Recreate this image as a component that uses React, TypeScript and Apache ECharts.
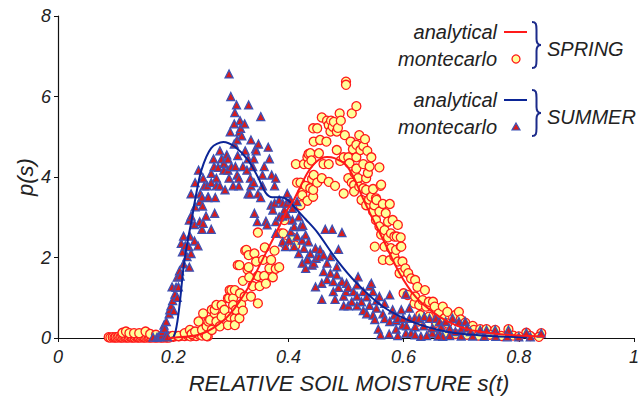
import React, { useEffect, useRef } from "react";
import * as echarts from "echarts";

// ---------- data ----------
const xTicks = [0, 0.2, 0.4, 0.6, 0.8, 1];
const yTicks = [0, 2, 4, 6, 8];

const springAnalytical: number[][] = [
  [0.19, 0], [0.22, 0.03], [0.244, 0.08], [0.27, 0.25], [0.3, 0.62], [0.33, 1.25],
  [0.359, 2.06], [0.38, 2.65], [0.398, 3.18], [0.41, 3.45], [0.433, 4.1], [0.45, 4.4],
  [0.467, 4.5], [0.48, 4.47], [0.5, 4.3], [0.513, 4.0], [0.53, 3.45], [0.545, 3.0],
  [0.565, 2.43], [0.593, 1.61], [0.621, 1.02], [0.65, 0.65], [0.678, 0.4], [0.71, 0.22],
  [0.736, 0.15], [0.765, 0.1], [0.793, 0.07], [0.82, 0.05], [0.845, 0.04],
];

const summerAnalytical: number[][] = [
  [0.19, 0], [0.2, 0.02], [0.206, 0.3], [0.212, 0.94], [0.218, 1.77], [0.225, 2.4],
  [0.232, 2.93], [0.238, 3.43], [0.249, 4.17], [0.266, 4.72], [0.287, 4.87], [0.307, 4.75],
  [0.33, 4.42], [0.347, 4.0], [0.361, 3.6], [0.372, 3.5], [0.387, 3.5], [0.4, 3.42],
  [0.41, 3.26], [0.43, 2.95], [0.45, 2.63], [0.484, 1.94], [0.518, 1.37], [0.565, 0.77],
  [0.621, 0.37], [0.678, 0.15], [0.73, 0.07], [0.78, 0.03], [0.814, 0.02],
];

const springMonteCarlo: number[][] = [
  [0.088, 0.02], [0.091, 0.01], [0.095, 0.02], [0.098, 0.01], [0.1, 0.02], [0.103, 0.01],
  [0.105, 0.03], [0.108, 0.01], [0.11, 0.02], [0.113, 0.01], [0.115, 0.03], [0.118, 0.01],
  [0.12, 0.02], [0.123, 0.01], [0.125, 0.03], [0.128, 0.01], [0.13, 0.02], [0.133, 0.01],
  [0.135, 0.03], [0.138, 0.01], [0.14, 0.02], [0.143, 0.01], [0.145, 0.03], [0.148, 0.01],
  [0.15, 0.02], [0.153, 0.01], [0.155, 0.03], [0.158, 0.01], [0.16, 0.02], [0.163, 0.01],
  [0.165, 0.03], [0.168, 0.01], [0.17, 0.02], [0.173, 0.01], [0.175, 0.03], [0.178, 0.01],
  [0.18, 0.02], [0.183, 0.01], [0.185, 0.03], [0.188, 0.01], [0.19, 0.02], [0.193, 0.01],
  [0.195, 0.04], [0.2, 0.03], [0.205, 0.05], [0.21, 0.04], [0.215, 0.06], [0.22, 0.05],
  [0.225, 0.07], [0.23, 0.04], [0.235, 0.06], [0.24, 0.05], [0.245, 0.08], [0.25, 0.06],
  [0.255, 0.1], [0.26, 0.04],
  [0.112, 0.13], [0.118, 0.16], [0.124, 0.12], [0.132, 0.12], [0.141, 0.12], [0.152, 0.16],
  [0.16, 0.1], [0.17, 0.08],
  [0.199, 0.05], [0.209, 0.05], [0.22, 0.12], [0.229, 0.2], [0.232, 0.1], [0.238, 0.16],
  [0.244, 0.41], [0.25, 0.2], [0.252, 0.61], [0.258, 0.29], [0.258, 0.05], [0.261, 0.41],
  [0.264, 0.45], [0.267, 0.7], [0.267, 0.2], [0.272, 0.61], [0.272, 0.7], [0.275, 0.82],
  [0.275, 0.41], [0.281, 0.29], [0.284, 0.82], [0.284, 0.53], [0.289, 0.7], [0.295, 0.99],
  [0.295, 0.32], [0.297, 0.99], [0.298, 1.19], [0.298, 0.53], [0.301, 1.19], [0.304, 0.99],
  [0.304, 0.82], [0.307, 1.19], [0.307, 0.49], [0.307, 0.32], [0.309, 0.7], [0.312, 1.81],
  [0.315, 1.81], [0.315, 0.49], [0.316, 1.11], [0.318, 0.84], [0.321, 1.42], [0.321, 0.68],
  [0.324, 1.03], [0.325, 2.17], [0.327, 2.19], [0.329, 1.7], [0.331, 2.06], [0.331, 1.76],
  [0.332, 1.51], [0.335, 1.03], [0.338, 1.29], [0.341, 2.1], [0.344, 1.9], [0.347, 2.62],
  [0.347, 1.54], [0.347, 0.86], [0.35, 1.29], [0.356, 1.94], [0.358, 1.54], [0.359, 2.25],
  [0.361, 1.35], [0.367, 1.73], [0.37, 1.94], [0.373, 1.51], [0.376, 2.17], [0.378, 1.72],
  [0.384, 1.76], [0.387, 2.6], [0.391, 2.6], [0.393, 2.93], [0.393, 2.35], [0.407, 2.5],
  [0.412, 2.3],
  [0.413, 4.32], [0.415, 3.86], [0.421, 3.3], [0.421, 3.86], [0.424, 3.61], [0.424, 3.55],
  [0.427, 4.32], [0.43, 3.78], [0.433, 4.49], [0.433, 3.41], [0.435, 4.57], [0.435, 4.32],
  [0.438, 4.59], [0.438, 3.72], [0.44, 4.41], [0.441, 3.95], [0.443, 5.21], [0.443, 3.51],
  [0.443, 3.68], [0.444, 4.88], [0.444, 4.05], [0.45, 5.21], [0.45, 3.86], [0.453, 4.59],
  [0.455, 4.92], [0.458, 5.48], [0.458, 3.97], [0.461, 4.32], [0.466, 4.88], [0.467, 5.4],
  [0.47, 5.29], [0.47, 4.32], [0.47, 3.88], [0.473, 5.13], [0.474, 5.4], [0.477, 5.25],
  [0.479, 5.37], [0.481, 3.78], [0.484, 4.67], [0.484, 5.13], [0.486, 5.22], [0.489, 5.58],
  [0.49, 4.4], [0.491, 5.4], [0.496, 4.49], [0.496, 3.59], [0.498, 5.04], [0.5, 6.37],
  [0.5, 6.29], [0.504, 4.49], [0.504, 3.97], [0.506, 4.34], [0.508, 4.88], [0.51, 5.58],
  [0.51, 3.86], [0.512, 4.69], [0.514, 3.8], [0.514, 3.64], [0.515, 4.1], [0.518, 5.76],
  [0.518, 4.8], [0.518, 4.49], [0.518, 4.21], [0.521, 3.97], [0.523, 5.04], [0.523, 3.76],
  [0.525, 4.67], [0.527, 3.43], [0.53, 4.77], [0.53, 4.32], [0.53, 3.72], [0.533, 4.94],
  [0.535, 3.97], [0.535, 3.68], [0.535, 3.3], [0.537, 4.65], [0.538, 4.1], [0.54, 3.44],
  [0.541, 4.26], [0.544, 4.49], [0.544, 3.51], [0.547, 3.7], [0.547, 3.14], [0.549, 3.3],
  [0.55, 2.27], [0.552, 3.47], [0.552, 2.93], [0.553, 3.43], [0.558, 4.24], [0.558, 3.14],
  [0.558, 2.77], [0.56, 3.78], [0.561, 3.81], [0.561, 2.57], [0.564, 3.33], [0.564, 1.94],
  [0.567, 2.68], [0.567, 2.27], [0.569, 3.1], [0.573, 2.89], [0.573, 2.5], [0.576, 3.33],
  [0.576, 1.93], [0.578, 2.6], [0.578, 2.23], [0.581, 2.93], [0.584, 2.52], [0.584, 2.02],
  [0.587, 2.19], [0.59, 2.81], [0.588, 2.52], [0.595, 2.5], [0.595, 2.27], [0.596, 2.27],
  [0.59, 1.9], [0.598, 1.9], [0.593, 1.61],
  [0.6, 1.11], [0.603, 1.73], [0.607, 1.07], [0.608, 1.61], [0.613, 1.48], [0.619, 0.86],
  [0.62, 1.44], [0.62, 1.03], [0.624, 1.27], [0.625, 0.41], [0.627, 0.82], [0.629, 0.57],
  [0.633, 0.94], [0.637, 1.19], [0.639, 0.78], [0.644, 0.9], [0.644, 0.53], [0.651, 0.9],
  [0.654, 0.78], [0.656, 0.38], [0.661, 0.61], [0.668, 0.78], [0.671, 0.49], [0.676, 0.65],
  [0.676, 0.36], [0.69, 0.57], [0.696, 0.65], [0.699, 0.46], [0.707, 0.38], [0.711, 0.26],
  [0.72, 0.3], [0.722, 0.2], [0.733, 0.22], [0.744, 0.22], [0.759, 0.2], [0.782, 0.22],
  [0.813, 0.13], [0.839, 0.12],
  [0.65, 0.15], [0.67, 0.12], [0.69, 0.1], [0.71, 0.08], [0.73, 0.06], [0.75, 0.08],
  [0.77, 0.05], [0.79, 0.06], [0.8, 0.04], [0.82, 0.05], [0.835, 0.03],
];

const summerMonteCarlo: number[][] = [
  [0.165, 0.02], [0.172, 0.02], [0.175, 0.03], [0.178, 0.04], [0.18, 0.07], [0.181, 0.16],
  [0.184, 0.32], [0.185, 0.24], [0.187, 0.05], [0.188, 0.41], [0.19, 0.03], [0.193, 0.6],
  [0.194, 0.7], [0.196, 0.8], [0.198, 1.27], [0.199, 0.93], [0.201, 0.68], [0.203, 1.09],
  [0.205, 1.26], [0.207, 1.51], [0.207, 1.01], [0.209, 1.27], [0.211, 1.67], [0.212, 1.54],
  [0.214, 2.35], [0.216, 2.14], [0.218, 2.53], [0.218, 1.84], [0.221, 2.29], [0.224, 2.02],
  [0.227, 2.27], [0.228, 2.93], [0.228, 1.76], [0.229, 2.53], [0.231, 3.03], [0.231, 2.1],
  [0.231, 3.58], [0.237, 2.82], [0.237, 2.41], [0.238, 3.26], [0.238, 3.86], [0.243, 2.29],
  [0.244, 4.17], [0.246, 3.39], [0.246, 2.89], [0.247, 3.58], [0.25, 3.5], [0.25, 2.7],
  [0.251, 3.28], [0.252, 2.85], [0.252, 3.97], [0.254, 3.78], [0.257, 3.03], [0.259, 3.78],
  [0.26, 3.49], [0.261, 3.5], [0.266, 2.7], [0.266, 4.09], [0.266, 3.86], [0.27, 4.45],
  [0.271, 4.26], [0.272, 3.1], [0.273, 3.49], [0.275, 3.97], [0.275, 3.78], [0.278, 4.24],
  [0.281, 4.65], [0.281, 3.78], [0.284, 4.45], [0.288, 4.34], [0.288, 4.17], [0.29, 3.68],
  [0.293, 4.55], [0.295, 4.45], [0.295, 4.17], [0.297, 6.56], [0.297, 3.97], [0.299, 5.12],
  [0.3, 6.0], [0.301, 4.26], [0.304, 3.78], [0.306, 5.32], [0.306, 4.82], [0.307, 5.6],
  [0.308, 4.26], [0.31, 5.79], [0.311, 4.92], [0.311, 4.05], [0.312, 4.53], [0.314, 3.97],
  [0.314, 3.78], [0.315, 5.12], [0.316, 5.4], [0.317, 5.21], [0.319, 5.02], [0.321, 4.26],
  [0.324, 5.32], [0.325, 4.65], [0.328, 4.17], [0.33, 4.45], [0.33, 3.58], [0.331, 5.79],
  [0.333, 3.58], [0.334, 3.97], [0.335, 4.92], [0.335, 3.78], [0.338, 4.26], [0.34, 4.45],
  [0.34, 3.86], [0.341, 3.1], [0.343, 4.7], [0.344, 4.65], [0.346, 2.89], [0.347, 3.58],
  [0.348, 4.82], [0.352, 5.5], [0.352, 3.49], [0.355, 4.05], [0.355, 3.78], [0.358, 4.26],
  [0.361, 2.9], [0.363, 2.81], [0.365, 4.74], [0.367, 4.45], [0.37, 3.3], [0.371, 4.05],
  [0.373, 3.18], [0.376, 3.78], [0.376, 3.35], [0.378, 3.97], [0.378, 2.89], [0.378, 2.6],
  [0.384, 3.43], [0.384, 3.01], [0.39, 3.03], [0.39, 2.39], [0.39, 3.35], [0.393, 3.18],
  [0.395, 2.27], [0.397, 3.35], [0.398, 3.59], [0.398, 3.06], [0.401, 2.43], [0.404, 3.43],
  [0.404, 2.64], [0.407, 3.22], [0.407, 2.93], [0.41, 2.77], [0.41, 2.27], [0.415, 3.39],
  [0.415, 2.53], [0.418, 3.01], [0.418, 2.1], [0.421, 2.77], [0.424, 2.43], [0.424, 1.86],
  [0.425, 2.8], [0.427, 2.23], [0.43, 2.56], [0.43, 1.73], [0.433, 1.98], [0.433, 1.94],
  [0.435, 2.39], [0.438, 2.1], [0.441, 1.81], [0.444, 1.86], [0.447, 2.23], [0.447, 1.27],
  [0.448, 1.98], [0.453, 2.02], [0.455, 2.19], [0.458, 1.36], [0.458, 0.96], [0.461, 2.06],
  [0.461, 1.65], [0.464, 2.7], [0.467, 1.86], [0.467, 1.45], [0.473, 2.02], [0.473, 1.61],
  [0.476, 2.7], [0.478, 1.4], [0.478, 1.15], [0.481, 0.96], [0.484, 1.77], [0.484, 1.57],
  [0.487, 2.2], [0.487, 1.26], [0.493, 2.62], [0.493, 1.4], [0.496, 1.04], [0.496, 0.8],
  [0.5, 1.15], [0.501, 1.36], [0.504, 1.26], [0.504, 0.8], [0.51, 0.9], [0.513, 1.15],
  [0.519, 1.32], [0.519, 1.04], [0.519, 0.8], [0.521, 1.52], [0.527, 0.9], [0.53, 1.15],
  [0.53, 0.68], [0.536, 1.02], [0.536, 0.6], [0.541, 1.29], [0.541, 0.81], [0.544, 1.36],
  [0.547, 1.15], [0.547, 0.57], [0.55, 0.46], [0.553, 0.93], [0.553, 0.74], [0.556, 0.22],
  [0.558, 1.03], [0.564, 0.6], [0.567, 0.86], [0.567, 0.48], [0.576, 1.07], [0.576, 0.41],
  [0.581, 0.7], [0.584, 0.57], [0.587, 0.43], [0.587, 0.22], [0.59, 0.49], [0.596, 0.7],
  [0.598, 0.32], [0.599, 0.49], [0.604, 1.09], [0.604, 0.12], [0.605, 0.3], [0.61, 0.74],
  [0.61, 0.49], [0.613, 0.12], [0.619, 0.49], [0.62, 0.28], [0.627, 0.49], [0.63, 0.04],
  [0.635, 0.3], [0.636, 0.53], [0.645, 0.49], [0.65, 0.12], [0.65, 0.25], [0.656, 0.49],
  [0.662, 0.41], [0.662, 0.12], [0.665, 0.27], [0.668, 0.04], [0.673, 0.41], [0.68, 0.24],
  [0.685, 0.49], [0.69, 0.16], [0.696, 0.41], [0.7, 0.22], [0.707, 0.41], [0.71, 0.25],
  [0.716, 0.16], [0.733, 0.2], [0.744, 0.2], [0.759, 0.2], [0.782, 0.2], [0.813, 0.13],
  [0.839, 0.12],
  [0.56, 0.08], [0.575, 0.1], [0.59, 0.06], [0.62, 0.08], [0.64, 0.06], [0.66, 0.05],
  [0.68, 0.06], [0.7, 0.05], [0.72, 0.05], [0.74, 0.04], [0.76, 0.04], [0.78, 0.03],
  [0.8, 0.03], [0.82, 0.03],
];

const legendGroups = ["SPRING", "SUMMER"];
const legendItems = ["analytical", "montecarlo"];

// ---------- styles ----------
const FONT = '"Liberation Sans", Arial, Helvetica, sans-serif';
const TEXT = "#222222";
const RED = "#ff1a1a";
const NAVY = "#0b2596";
const BRACE = "#1b2a8a";
const TRI_FILL = "#d81c1c";
const TRI_BORDER = "#3d52b5";
const CIRC_FILL = "#ffff99";

echarts.graphic.registerShape(
  "brace",
  echarts.graphic.extendPath(
    "M0,0 C4,0 4.5,2 4.5,8 L4.5,17 C4.5,21 5.5,23 9,23 C5.5,23 4.5,25 4.5,29 L4.5,38 C4.5,44 4,46 0,46",
    {}
  )
);

function legendGraphic(): any[] {
  const els: any[] = [];
  const tops = [32, 100];
  const colors = [RED, NAVY];
  tops.forEach((y0, g) => {
    const y1 = y0 + 27;
    els.push({
      type: "text", x: 497, y: y0,
      style: { text: legendItems[0], font: `italic 20px ${FONT}`, fill: TEXT, textAlign: "right", textVerticalAlign: "middle" },
    });
    els.push({
      type: "text", x: 497, y: y1,
      style: { text: legendItems[1], font: `italic 20px ${FONT}`, fill: TEXT, textAlign: "right", textVerticalAlign: "middle" },
    });
    els.push({
      type: "line",
      shape: { x1: 504, y1: y0, x2: 527, y2: y0 },
      style: { stroke: colors[g], lineWidth: 2 },
    });
    if (g === 0) {
      els.push({
        type: "circle",
        shape: { cx: 516, cy: y1, r: 4 },
        style: { fill: CIRC_FILL, stroke: RED, lineWidth: 1.3 },
      });
    } else {
      els.push({
        type: "polygon",
        shape: { points: [[516, y1 - 4], [520, y1 + 3], [512, y1 + 3]] },
        style: { fill: TRI_FILL, stroke: TRI_BORDER, lineWidth: 1.2 },
      });
    }
    els.push({
      type: "brace", x: 532, y: y0 - 10,
      style: { fill: "none", stroke: BRACE, lineWidth: 2 },
    });
    els.push({
      type: "text", x: 547, y: y0 + 17,
      style: { text: legendGroups[g], font: `italic 20px ${FONT}`, fill: TEXT, textAlign: "left", textVerticalAlign: "middle" },
    });
  });
  els.push({
    type: "text", x: 25, y: 177, rotation: Math.PI / 2,
    style: { text: "p(s)", font: `italic 22px ${FONT}`, fill: TEXT, textAlign: "center", textVerticalAlign: "middle" },
  });
  els.push({
    type: "text", x: 349, y: 383,
    style: { text: "RELATIVE SOIL MOISTURE s(t)", font: `italic 22px ${FONT}`, fill: TEXT, textAlign: "center", textVerticalAlign: "middle" },
  });
  return els;
}

export default function App() {
  const ref = useRef<HTMLDivElement>(null);
  useEffect(() => {
    if (!ref.current) return;
    const chart = echarts.init(ref.current, undefined, { renderer: "svg" });
    const axisLabel = { color: TEXT, fontSize: 18, fontStyle: "italic", fontFamily: FONT };
    chart.setOption({
      animation: false,
      backgroundColor: "#ffffff",
      grid: { left: 58, right: 2, top: 16, bottom: 65, containLabel: false },
      xAxis: {
        type: "value", min: xTicks[0], max: xTicks[xTicks.length - 1], interval: 0.2,
        axisLine: { onZero: false, lineStyle: { color: "#111", width: 1.2 } },
        axisTick: { show: true, length: 4, lineStyle: { color: "#111" } },
        splitLine: { show: false },
        axisLabel: { ...axisLabel, margin: 10, formatter: (v: number) => (v === 0 || v === 1 ? String(v) : v.toFixed(1)) },
      },
      yAxis: {
        type: "value", min: yTicks[0], max: yTicks[yTicks.length - 1], interval: 2,
        axisLine: { show: true, lineStyle: { color: "#111", width: 1.2 } },
        axisTick: { show: true, length: 4, lineStyle: { color: "#111" } },
        splitLine: { show: false },
        axisLabel: { ...axisLabel, margin: 7 },
      },
      graphic: legendGraphic(),
      series: [
        {
          name: "SPRING montecarlo", type: "scatter", data: springMonteCarlo,
          symbol: "circle", symbolSize: 9,
          itemStyle: { color: CIRC_FILL, borderColor: RED, borderWidth: 1.3, opacity: 1 },
          z: 2,
        },
        {
          name: "SUMMER montecarlo", type: "scatter", data: summerMonteCarlo,
          symbol: "triangle", symbolSize: 8,
          itemStyle: { color: TRI_FILL, borderColor: TRI_BORDER, borderWidth: 1.3, opacity: 1 },
          z: 3,
        },
        {
          name: "SUMMER analytical", type: "line", data: summerAnalytical, smooth: 0.3,
          showSymbol: false, lineStyle: { color: NAVY, width: 2 }, z: 4,
        },
        {
          name: "SPRING analytical", type: "line", data: springAnalytical, smooth: 0.3,
          showSymbol: false, lineStyle: { color: RED, width: 2 }, z: 5,
        },
      ],
    });
    return () => chart.dispose();
  }, []);
  return <div ref={ref} style={{ position: "fixed", left: 0, top: 0, width: 642, height: 403 }} />;
}
